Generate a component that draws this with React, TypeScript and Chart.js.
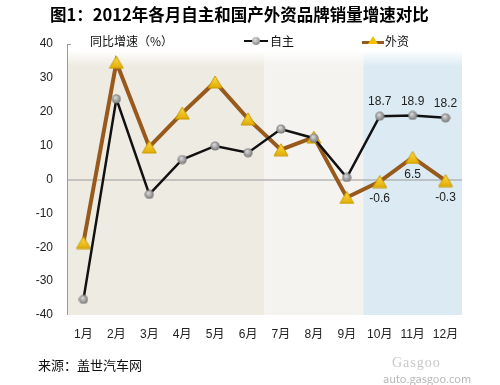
import React, { useEffect, useRef } from "react";
import { Chart, registerables } from "chart.js";

Chart.register(...registerables);

const months = ["1月", "2月", "3月", "4月", "5月", "6月", "7月", "8月", "9月", "10月", "11月", "12月"];
const domestic = [-35.4, 23.8, -4.4, 5.9, 9.9, 7.9, 14.9, 12.2, 0.6, 18.7, 18.9, 18.2];
const foreign = [-18.6, 34.6, 9.6, 19.6, 28.8, 17.9, 8.8, 12.5, -5.3, -0.6, 6.5, -0.3];
const domesticLabels = ["", "", "", "", "", "", "", "", "", "18.7", "18.9", "18.2"];
const foreignLabels = ["", "", "", "", "", "", "", "", "", "-0.6", "6.5", "-0.3"];
const yTicks = [40, 30, 20, 10, 0, -10, -20, -30, -40];
const bands = [
  { from: 0, to: 5, color: "#eeebe2" },
  { from: 6, to: 8, color: "#f4f3f0" },
  { from: 9, to: 11, color: "#dcebf3" },
];

const FONT = "'Noto Sans CJK SC', 'Noto Sans', sans-serif";
const NUMFONT = "'Liberation Sans', 'Noto Sans CJK SC', sans-serif";

const bgPlugin = {
  id: "bands",
  beforeDatasetsDraw(chart: any) {
    const { ctx, chartArea, scales } = chart;
    const x = scales.x;
    const y = scales.y;
    const half = (x.getPixelForValue(1) - x.getPixelForValue(0)) / 2;
    ctx.save();
    bands.forEach((b) => {
      const l = x.getPixelForValue(b.from) - half;
      const r = x.getPixelForValue(b.to) + half;
      const top = chartArea.top + 6;
      const g = ctx.createLinearGradient(0, top, 0, top + 16);
      g.addColorStop(0, "#ffffff");
      g.addColorStop(1, b.color);
      ctx.fillStyle = g;
      ctx.fillRect(l, top, r - l, chartArea.bottom - top);
    });
    const y0 = y.getPixelForValue(0);
    ctx.strokeStyle = "#9a9a9a";
    ctx.lineWidth = 1;
    ctx.beginPath();
    ctx.moveTo(chartArea.left, y0 + 0.5);
    ctx.lineTo(chartArea.right, y0 + 0.5);
    ctx.stroke();
    ctx.beginPath();
    ctx.moveTo(chartArea.left + 0.5, chartArea.top);
    ctx.lineTo(chartArea.left + 0.5, chartArea.bottom);
    ctx.moveTo(chartArea.left, chartArea.top + 0.5);
    ctx.lineTo(chartArea.left + 4, chartArea.top + 0.5);
    ctx.stroke();
    ctx.restore();
  },
  afterDatasetsDraw(chart: any) {
    const { ctx } = chart;
    ctx.save();
    ctx.font = `12px ${NUMFONT}`;
    ctx.fillStyle = "#222";
    ctx.textAlign = "center";
    const m0 = chart.getDatasetMeta(0);
    const m1 = chart.getDatasetMeta(1);
    domesticLabels.forEach((t, i) => {
      if (!t) return;
      const p = m0.data[i];
      ctx.textBaseline = "bottom";
      ctx.fillText(t, p.x, p.y - 8);
    });
    foreignLabels.forEach((t, i) => {
      if (!t) return;
      const p = m1.data[i];
      ctx.textBaseline = "top";
      ctx.fillText(t, p.x, p.y + 11);
    });
    ctx.restore();
  },
};

function makeTriangle(): HTMLCanvasElement {
  const c = document.createElement("canvas");
  c.width = 16;
  c.height = 14;
  const ctx = c.getContext("2d")!;
  const g = ctx.createLinearGradient(0, 0, 0, 14);
  g.addColorStop(0, "#ffe14a");
  g.addColorStop(1, "#e0a800");
  ctx.fillStyle = g;
  ctx.strokeStyle = "#c99a00";
  ctx.lineWidth = 1;
  ctx.beginPath();
  ctx.moveTo(8, 1);
  ctx.lineTo(15, 13);
  ctx.lineTo(1, 13);
  ctx.closePath();
  ctx.fill();
  ctx.stroke();
  return c;
}

function makeCircle(): HTMLCanvasElement {
  const c = document.createElement("canvas");
  c.width = 10;
  c.height = 10;
  const ctx = c.getContext("2d")!;
  const g = ctx.createRadialGradient(4, 3.5, 0.5, 5, 5, 5);
  g.addColorStop(0, "#d8d8d8");
  g.addColorStop(1, "#6e6e6e");
  ctx.fillStyle = g;
  ctx.beginPath();
  ctx.arc(5, 5, 4.6, 0, Math.PI * 2);
  ctx.fill();
  return c;
}

export default function App() {
  const ref = useRef<HTMLCanvasElement>(null);
  useEffect(() => {
    const tri = makeTriangle();
    const circ = makeCircle();
    const chart = new Chart(ref.current!, {
      type: "line",
      data: {
        labels: months,
        datasets: [
          {
            label: "自主",
            data: domestic,
            borderColor: "#111111",
            borderWidth: 2.5,
            pointStyle: circ as any,
            pointRadius: 5,
            tension: 0,
            order: 1,
          },
          {
            label: "外资",
            data: foreign,
            borderColor: "#98591d",
            borderWidth: 4,
            pointStyle: tri as any,
            pointRadius: 7,
            tension: 0,
            order: 2,
          },
        ],
      },
      options: {
        animation: false,
        responsive: false,
        maintainAspectRatio: false,
        layout: { padding: { left: 0, right: 38, top: 44, bottom: 38 } },
        plugins: { legend: { display: false }, tooltip: { enabled: false } },
        scales: {
          x: {
            offset: true,
            grid: { display: false, drawTicks: false },
            border: { display: false },
            ticks: { color: "#222", font: { size: 12, family: NUMFONT }, padding: 12 },
            afterFit: (s: any) => {
              s.height = 32;
            },
          },
          y: {
            min: -40,
            max: 40,
            grid: { display: false, drawTicks: false },
            border: { display: false },
            afterBuildTicks: (s: any) => {
              s.ticks = yTicks.map((v) => ({ value: v }));
            },
            ticks: { color: "#222", font: { size: 12, family: NUMFONT }, padding: 14 },
            afterFit: (s: any) => {
              s.width = 67;
            },
          },
        },
      },
      plugins: [bgPlugin],
    });
    return () => chart.destroy();
  }, []);

  const text: React.CSSProperties = { position: "absolute", fontFamily: FONT, whiteSpace: "nowrap", color: "#111" };
  return (
    <div style={{ position: "absolute", left: 0, top: 0, width: 500, height: 385, background: "#fff", overflow: "hidden" }}>
      <canvas ref={ref} width={500} height={385} style={{ position: "absolute", left: 0, top: 0 }} />
      <div style={{ ...text, left: 50, top: 2, fontSize: 16.5, fontWeight: 700, color: "#000" }}>图1：2012年各月自主和国产外资品牌销量增速对比</div>
      <div style={{ ...text, left: 90, top: 32, fontSize: 12 }}>同比增速（%）</div>
      <div style={{ ...text, left: 244, top: 32, fontSize: 12, display: "flex", alignItems: "center" }}>
        <span style={{ position: "relative", width: 24, height: 16, display: "inline-block" }}>
          <span style={{ position: "absolute", left: 0, top: 7, width: 24, height: 2.5, background: "#111" }} />
          <span style={{ position: "absolute", left: 8, top: 4, width: 8, height: 8, borderRadius: 4, background: "radial-gradient(circle at 40% 35%, #ddd, #6e6e6e)" }} />
        </span>
        <span style={{ marginLeft: 2 }}>自主</span>
      </div>
      <div style={{ ...text, left: 362, top: 32, fontSize: 12, display: "flex", alignItems: "center" }}>
        <span style={{ position: "relative", width: 22, height: 16, display: "inline-block" }}>
          <span style={{ position: "absolute", left: 0, top: 8, width: 22, height: 3, background: "#98591d" }} />
          <span style={{ position: "absolute", left: 6, top: 3, width: 0, height: 0, borderLeft: "5px solid transparent", borderRight: "5px solid transparent", borderBottom: "8px solid #f2c200" }} />
        </span>
        <span style={{ marginLeft: 1 }}>外资</span>
      </div>
      <div style={{ ...text, left: 38, top: 355, fontSize: 13 }}>来源：盖世汽车网</div>
      <div style={{ ...text, left: 392, top: 355, fontSize: 14, color: "#c8c8c8", fontFamily: "'Liberation Serif', serif", letterSpacing: 1 }}>Gasgoo</div>
      <div style={{ ...text, left: 383, top: 370, fontSize: 11, color: "#b8b8b8" }}>auto.gasgoo.com</div>
    </div>
  );
}
